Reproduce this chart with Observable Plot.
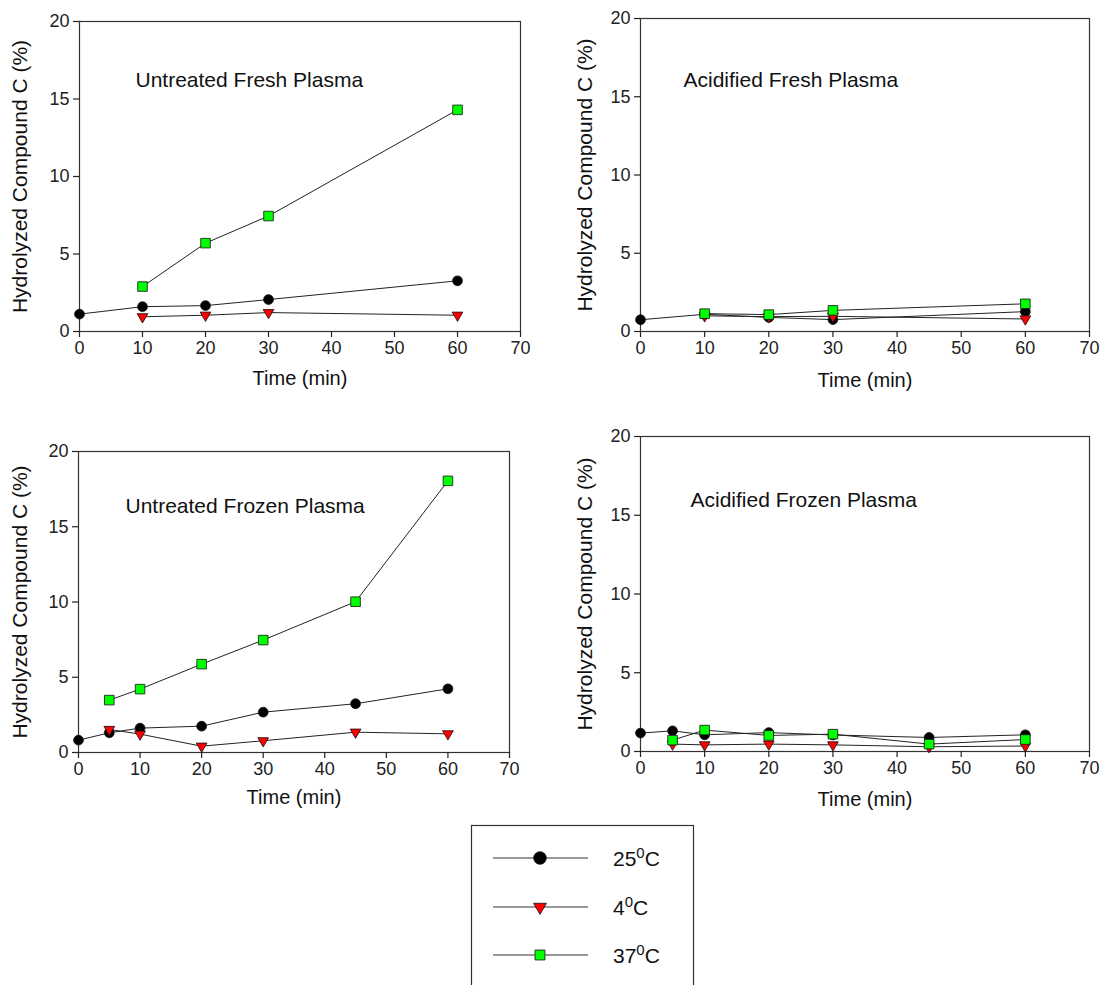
<!DOCTYPE html>
<html>
<head>
<meta charset="utf-8">
<script src="https://cdn.jsdelivr.net/npm/d3@7"></script>
<script src="https://cdn.jsdelivr.net/npm/@observablehq/plot@0.6"></script>
<style>
  html, body { margin: 0; padding: 0; background: #fff; }
  #root { position: relative; width: 1104px; height: 985px; overflow: hidden; font-family: "Liberation Sans", Arial, sans-serif; }
  #root > svg { position: absolute; }
</style>
</head>
<body>
<div id="root"></div>
<script>
// ---- Data ----
const seriesNames = ["25", "4", "37"];           // temperatures (°C)
const xTicks = [0, 10, 20, 30, 40, 50, 60, 70];
const yTicks = [0, 5, 10, 15, 20];
const panelTitles = ["Untreated Fresh Plasma", "Acidified Fresh Plasma", "Untreated Frozen Plasma", "Acidified Frozen Plasma"];
const xLabel = "Time (min)";
const yLabel = "Hydrolyzed Compound C (%)";

// times
const tFresh25 = [0, 10, 20, 30, 60];
const tFresh = [10, 20, 30, 60];
const tFrozen25 = [0, 5, 10, 20, 30, 45, 60];
const tFrozen = [5, 10, 20, 30, 45, 60];

// Untreated fresh plasma
const untreatedFresh25 = [1.12, 1.6, 1.67, 2.06, 3.27];
const untreatedFresh4 = [0.95, 1.05, 1.22, 1.05];
const untreatedFresh37 = [2.9, 5.7, 7.45, 14.3];

// Acidified fresh plasma
const acidifiedFresh25 = [0.75, 1.1, 0.9, 0.76, 1.27];
const acidifiedFresh4 = [1.0, 0.95, 0.97, 0.8];
const acidifiedFresh37 = [1.14, 1.08, 1.35, 1.77];

// Untreated frozen plasma
const untreatedFrozen25 = [0.82, 1.31, 1.62, 1.75, 2.68, 3.24, 4.23];
const untreatedFrozen4 = [1.53, 1.22, 0.42, 0.78, 1.35, 1.24];
const untreatedFrozen37 = [3.48, 4.21, 5.87, 7.47, 10.02, 18.05];

// Acidified frozen plasma
const acidifiedFrozen25 = [1.17, 1.31, 1.06, 1.2, 1.05, 0.89, 1.06];
const acidifiedFrozen4 = [0.47, 0.42, 0.47, 0.42, 0.3, 0.35];
const acidifiedFrozen37 = [0.72, 1.36, 1.02, 1.1, 0.47, 0.76];

function rows(ts, vs, s) { return ts.map((t, i) => ({time: t, value: vs[i], series: s})); }

const panels = [
  {title: panelTitles[0], data: [rows(tFresh25, untreatedFresh25, "25"), rows(tFresh, untreatedFresh4, "4"), rows(tFresh, untreatedFresh37, "37")],
   left: 0, top: 0, width: 540, height: 395, mt: 21, ml: 79, mr: 20, mb: 64, tdx: 56, tdy: 59, ydx: -59, xdy: 47},
  {title: panelTitles[1], data: [rows(tFresh25, acidifiedFresh25, "25"), rows(tFresh, acidifiedFresh4, "4"), rows(tFresh, acidifiedFresh37, "37")],
   left: 560, top: 0, width: 544, height: 395, mt: 18, ml: 80, mr: 15, mb: 64, tdx: 43, tdy: 62, ydx: -55, xdy: 49},
  {title: panelTitles[2], data: [rows(tFrozen25, untreatedFrozen25, "25"), rows(tFrozen, untreatedFrozen4, "4"), rows(tFrozen, untreatedFrozen37, "37")],
   left: 0, top: 420, width: 530, height: 400, mt: 31, ml: 78, mr: 21, mb: 68, tdx: 47, tdy: 55, ydx: -58, xdy: 45},
  {title: panelTitles[3], data: [rows(tFrozen25, acidifiedFrozen25, "25"), rows(tFrozen, acidifiedFrozen4, "4"), rows(tFrozen, acidifiedFrozen37, "37")],
   left: 560, top: 420, width: 544, height: 400, mt: 16, ml: 80, mr: 15, mb: 69, tdx: 50, tdy: 64, ydx: -55, xdy: 48}
];

const styleBySeries = {
  "25": {symbol: "circle", fill: "#000000", r: 4.9, rotate: 0},
  "4": {symbol: "triangle", fill: "#ff0000", r: 4.0, rotate: 180},
  "37": {symbol: "square", fill: "#00ff00", r: 5.4, rotate: 0}
};

const root = document.getElementById("root");
const axisColor = "#333";

for (const p of panels) {
  const marks = [
    Plot.frame({stroke: axisColor, strokeWidth: 1.2}),
    Plot.axisX({ticks: xTicks, tickSize: 6, tickPadding: 4, fontSize: 18, color: "#222", label: null, strokeWidth: 1.2}),
    Plot.axisY({ticks: yTicks, tickSize: 6, tickPadding: 4, fontSize: 18, color: "#222", label: null, strokeWidth: 1.2}),
    Plot.text([p.title], {frameAnchor: "top-left", lineAnchor: "middle", text: d => d, dx: p.tdx, dy: p.tdy, textAnchor: "start", fontSize: 21, fill: "#111"}),
    Plot.text([xLabel], {frameAnchor: "bottom", lineAnchor: "middle", textAnchor: "middle", text: d => d, dy: p.xdy, fontSize: 20, fill: "#111"}),
    Plot.text([yLabel], {frameAnchor: "left", lineAnchor: "middle", textAnchor: "middle", text: d => d, dx: p.ydx, rotate: -90, fontSize: 21, fill: "#111"})
  ];
  for (const d of p.data) {
    marks.push(Plot.line(d, {x: "time", y: "value", stroke: "#222", strokeWidth: 1}));
  }
  for (const d of p.data) {
    const st = styleBySeries[d[0].series];
    marks.push(Plot.dot(d, {x: "time", y: "value", symbol: st.symbol, r: st.r, fill: st.fill, stroke: "#111", strokeWidth: 0.8, rotate: st.rotate}));
  }
  const svg = Plot.plot({
    width: p.width, height: p.height,
    marginTop: p.mt, marginLeft: p.ml, marginRight: p.mr, marginBottom: p.mb,
    x: {domain: [0, 70]},
    y: {domain: [0, 20]},
    style: {fontFamily: "'Liberation Sans', Arial, sans-serif", background: "transparent", overflow: "visible"},
    marks
  });
  svg.style.left = p.left + "px";
  svg.style.top = p.top + "px";
  root.appendChild(svg);
}

// ---- Legend ----
const legend = d3.create("svg").attr("width", 1104).attr("height", 985).style("left", "0px").style("top", "0px");
legend.append("rect").attr("x", 471.5).attr("y", 825.5).attr("width", 222).attr("height", 170)
  .attr("fill", "none").attr("stroke", "#333").attr("stroke-width", 1.2);
const legendY = [858, 907, 955];
const sym = {circle: d3.symbolCircle, triangle: d3.symbolTriangle, square: d3.symbolSquare};
const legendSizes = {"25": 6.3, "4": 4.8, "37": 5.6};
seriesNames.forEach((s, i) => {
  const y = legendY[i];
  const st = styleBySeries[s];
  legend.append("line").attr("x1", 493).attr("x2", 588).attr("y1", y).attr("y2", y).attr("stroke", "#333").attr("stroke-width", 1);
  const r = legendSizes[s];
  legend.append("path").attr("d", d3.symbol(sym[st.symbol], Math.PI * r * r)())
    .attr("transform", `translate(540,${y}) rotate(${st.rotate})`)
    .attr("fill", st.fill).attr("stroke", "#111").attr("stroke-width", 0.8);
  const t = legend.append("text").attr("x", 613).attr("y", y).attr("dy", "0.36em")
    .attr("font-size", 21).attr("fill", "#111").attr("font-family", "'Liberation Sans', Arial, sans-serif");
  t.append("tspan").text(s);
  t.append("tspan").attr("font-size", 15).attr("dy", "-0.5em").text("0");
  t.append("tspan").attr("dy", "0.36em").text("C");
});
root.appendChild(legend.node());
</script>
</body>
</html>
